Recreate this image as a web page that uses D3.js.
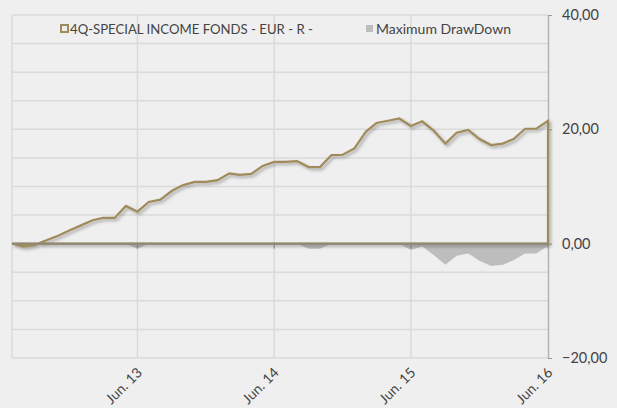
<!DOCTYPE html>
<html>
<head>
<meta charset="utf-8">
<script src="https://cdn.jsdelivr.net/npm/d3@7"></script>
<style>
  html, body { margin: 0; padding: 0; background: #efefef; }
  svg { display: block; font-family: Lato, "Open Sans", sans-serif; }
</style>
</head>
<body>
<script>
// Chart settings
const width = 617;
const height = 408;
const margin = { top: 15, right: 69, bottom: 50, left: 12 };
const gold = '#a08b5b';
const ddColor = '#bdbdbd';
const gridColor = '#dadada';

// Data (monthly)
const months = [
  '2012-07', '2012-08', '2012-09', '2012-10', '2012-11', '2012-12',
  '2013-01', '2013-02', '2013-03', '2013-04', '2013-05', '2013-06',
  '2013-07', '2013-08', '2013-09', '2013-10', '2013-11', '2013-12',
  '2014-01', '2014-02', '2014-03', '2014-04', '2014-05', '2014-06',
  '2014-07', '2014-08', '2014-09', '2014-10', '2014-11', '2014-12',
  '2015-01', '2015-02', '2015-03', '2015-04', '2015-05', '2015-06',
  '2015-07', '2015-08', '2015-09', '2015-10', '2015-11', '2015-12',
  '2016-01', '2016-02', '2016-03', '2016-04', '2016-05', '2016-06'
];
const fund = [
  0, -0.5, -0.2, 0.6, 1.4, 2.3, 3.2, 4.1, 4.5, 4.5, 6.6, 5.6,
  7.3, 7.7, 9.25, 10.25, 10.8, 10.8, 11.1, 12.3, 12.05, 12.2, 13.6, 14.3,
  14.3, 14.45, 13.4, 13.4, 15.5, 15.55, 16.65, 19.6, 21.1, 21.5, 21.9, 20.6,
  21.4, 19.75, 17.5, 19.4, 19.9, 18.3, 17.25, 17.5, 18.3, 20.1, 20.1, 21.5
];
const drawdown = [
  0, -0.5, -0.2, 0, 0, 0, 0, 0, 0, 0, 0, -0.9,
  0, 0, 0, 0, 0, 0, 0, 0, 0, 0, 0, 0,
  0, 0, -0.9, -0.9, 0, 0, 0, 0, 0, 0, 0, -1.1,
  -0.5, -2.0, -3.7, -2.1, -1.7, -3.0, -3.9, -3.7, -2.9, -1.7, -1.7, -0.4
];
const xTicks = ['2013-06', '2014-06', '2015-06', '2016-06'];
const xTickLabels = ['Jun. 13', 'Jun. 14', 'Jun. 15', 'Jun. 16'];
const yTicks = [-20, 0, 20, 40];
const yGrid = [-20, -15, -10, -5, 0, 5, 10, 15, 20, 25, 30, 35, 40];
const legendLabels = ['4Q-SPECIAL INCOME FONDS - EUR - R -', 'Maximum DrawDown'];

const parse = d3.timeParse('%Y-%m');
const data = months.map((m, i) => ({ date: parse(m), fund: fund[i], dd: drawdown[i] }));

// SVG
const svg = d3.select('body')
  .append('svg')
  .attr('width', width)
  .attr('height', height);

// Shadow under the fund line
svg.append('defs')
  .append('filter')
  .attr('id', 'shadow')
  .attr('x', '-5%').attr('y', '-5%')
  .attr('width', '110%').attr('height', '120%')
  .append('feDropShadow')
  .attr('dx', 2).attr('dy', 2)
  .attr('stdDeviation', 1.4)
  .attr('flood-color', '#444')
  .attr('flood-opacity', 0.45);

// Scales
const x = d3.scaleTime()
  .domain(d3.extent(data, d => d.date))
  .range([margin.left, width - margin.right]);

const y = d3.scaleLinear()
  .domain([-20, 40])
  .range([height - margin.bottom, margin.top]);

// Grid
svg.append('g')
  .selectAll('line')
  .data(yGrid)
  .join('line')
  .attr('x1', x.range()[0]).attr('x2', x.range()[1])
  .attr('y1', d => y(d)).attr('y2', d => y(d))
  .attr('stroke', gridColor)
  .attr('stroke-width', 1.5);

svg.append('g')
  .selectAll('line')
  .data([data[0].date].concat(xTicks.slice(0, -1).map(parse)))
  .join('line')
  .attr('x1', d => x(d)).attr('x2', d => x(d))
  .attr('y1', y(40)).attr('y2', y(-20))
  .attr('stroke', gridColor)
  .attr('stroke-width', 1.5);

// Drawdown area
svg.append('path')
  .datum(data)
  .attr('fill', ddColor)
  .attr('d', d3.area()
    .x(d => x(d.date))
    .y0(y(0))
    .y1(d => y(d.dd)));

// Small ticks on the zero line
svg.append('g')
  .selectAll('line')
  .data(xTicks.map(parse))
  .join('line')
  .attr('x1', d => x(d)).attr('x2', d => x(d))
  .attr('y1', y(0)).attr('y2', y(0) + 5)
  .attr('stroke', '#8a8a8a');

// Right axis
svg.append('g')
  .attr('transform', `translate(${x.range()[1]},0)`)
  .call(d3.axisRight(y)
    .tickValues(yTicks)
    .tickSize(4)
    .tickSizeOuter(0)
    .tickPadding(10)
    .tickFormat(d => d3.format('.2f')(d).replace('.', ',')))
  .call(g => g.select('.domain').attr('stroke', '#b3b3b3').attr('stroke-width', 1.5))
  .call(g => g.selectAll('.tick line').attr('stroke', '#999'))
  .call(g => g.selectAll('text')
    .attr('fill', '#444')
    .attr('font-size', 14.5)
    .attr('font-family', 'Lato, sans-serif'));

// Fund line, closed down to zero as in the original
const linePts = data.map(d => [x(d.date), y(d.fund)]);
linePts.push([x(data[data.length - 1].date), y(0)]);
linePts.push([x(data[0].date), y(0)]);

svg.append('path')
  .attr('d', d3.line()(linePts) + 'Z')
  .attr('fill', 'none')
  .attr('stroke', gold)
  .attr('stroke-width', 2.2)
  .attr('stroke-linejoin', 'miter')
  .attr('filter', 'url(#shadow)');

// Zero line looks greyer than the fund line
svg.append('line')
  .attr('x1', x.range()[0]).attr('x2', x.range()[1])
  .attr('y1', y(0)).attr('y2', y(0))
  .attr('stroke', '#8f8877')
  .attr('stroke-width', 2);

// X labels (rotated)
svg.append('g')
  .selectAll('text')
  .data(xTicks)
  .join('text')
  .attr('transform', d => `translate(${x(parse(d)) + 2},${y(-20) + 12}) rotate(-45)`)
  .attr('text-anchor', 'end')
  .attr('dy', '0.35em')
  .attr('fill', '#444')
  .attr('font-size', 14)
  .text((d, i) => xTickLabels[i]);

// Legend
const legend = svg.append('g').attr('font-size', 14).attr('fill', '#444');

legend.append('rect')
  .attr('x', 61).attr('y', 25)
  .attr('width', 7).attr('height', 7)
  .attr('fill', 'none')
  .attr('stroke', gold)
  .attr('stroke-width', 2);

legend.append('text')
  .attr('x', 70).attr('y', 29)
  .attr('dy', '0.35em')
  .attr('textLength', 243)
  .attr('lengthAdjust', 'spacingAndGlyphs')
  .text(legendLabels[0]);

legend.append('rect')
  .attr('x', 366).attr('y', 25)
  .attr('width', 7).attr('height', 7)
  .attr('fill', ddColor);

legend.append('text')
  .attr('x', 376).attr('y', 29)
  .attr('dy', '0.35em')
  .text(legendLabels[1]);
</script>
</body>
</html>
